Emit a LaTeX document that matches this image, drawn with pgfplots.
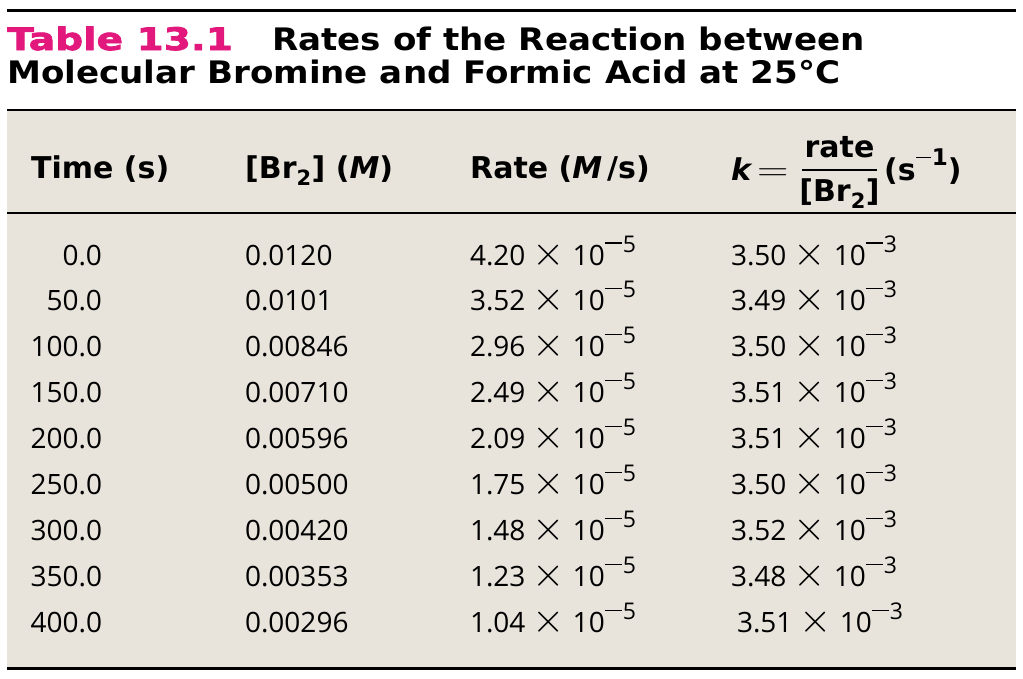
\documentclass[border=0pt]{standalone}
\usepackage{amsmath}
\usepackage{graphicx}
\usepackage{fontspec}
\setmainfont{Open Sans}
\newfontfamily\hdfont{DejaVu Sans}
\newfontface\ttlfont{DejaVu Sans Bold}[FakeStretch=1.1]
\newfontface\ttlheavy{DejaVu Sans Bold}[FakeStretch=1.26, FakeBold=2.5]
\usepackage{pgfplots}
\usepackage{pgfplotstable}
\pgfplotsset{compat=1.18}
\definecolor{bg}{RGB}{232,228,220}
\definecolor{mag}{RGB}{226,24,125}
\newcommand\body{\fontsize{28pt}{32pt}\selectfont}
\newcommand\head{\hdfont\fontsize{30pt}{34pt}\selectfont\bfseries}
\newcommand\ttl{\fontsize{31pt}{36pt}\selectfont\ttlfont}
\newcommand\sx{\hspace{7pt}\scalebox{2.0}{\fontsize{20pt}{24pt}\selectfont$\times$}\hspace{8pt}}
\newcommand\sexp[1]{\raisebox{13pt}{\fontsize{23pt}{0pt}\selectfont\rule[8.5pt]{17pt}{1.2pt}\hspace{1pt}#1}}
\pgfplotstableread{
row time br rate k
0 0.0 0.0120 4.20 3.50
1 50.0 0.0101 3.52 3.49
2 100.0 0.00846 2.96 3.50
3 150.0 0.00710 2.49 3.51
4 200.0 0.00596 2.09 3.51
5 250.0 0.00500 1.75 3.50
6 300.0 0.00420 1.48 3.52
7 350.0 0.00353 1.23 3.48
8 400.0 0.00296 1.04 3.51
}\datatable
\begin{document}
\begin{tikzpicture}
\begin{axis}[
  scale only axis, width=1023pt, height=678pt,
  xmin=0, xmax=1023, ymin=0, ymax=678, y dir=reverse,
  hide axis, clip=false,
  point meta=explicit symbolic,
  every node near coord/.append style={inner sep=0pt, outer sep=0pt, font=\body, text=black},
]
\path (axis cs:0,0) rectangle (axis cs:1023,678);
% background
\addplot[fill=bg, draw=none] coordinates {(7,111) (1016,111) (1016,668) (7,668)} -- cycle;
% rules
\addplot[black, line width=3pt] coordinates {(7,10) (1016,10)};
\addplot[black, line width=2pt] coordinates {(7,110) (1016,110)};
\addplot[black, line width=2pt] coordinates {(7,213) (1016,213)};
\addplot[black, line width=3pt] coordinates {(7,668) (1016,668)};
% title
\node[anchor=base west, inner sep=0pt, text=mag, font=\fontsize{31pt}{36pt}\selectfont\ttlheavy] at (axis cs:7,50) {Table 13.1};
\node[anchor=base west, inner sep=0pt, font=\ttl] at (axis cs:272,50) {Rates of the Reaction between};
\node[anchor=base west, inner sep=0pt, font=\ttl] at (axis cs:7,83) {Molecular Bromine and Formic Acid at 25°C};
% header
\node[anchor=base west, inner sep=0pt, font=\head] at (axis cs:31,178) {Time (s)};
\node[anchor=base west, inner sep=0pt, font=\head] at (axis cs:245,178) {[Br\textsubscript{2}] (\textit{M})};
\node[anchor=base west, inner sep=0pt, font=\head] at (axis cs:470,178) {Rate (\textit{M}\,/s)};
\node[anchor=base west, inner sep=0pt, font=\head] at (axis cs:731,180) {\textit{k}};
\node[anchor=base west, inner sep=0pt, font=\head] at (axis cs:757,180)
  {\scalebox{2.1}[1.6]{\fontsize{20pt}{24pt}\selectfont$=$}};
\node[anchor=base, inner sep=0pt, font=\head] at (axis cs:839.5,157) {rate};
\node[anchor=base, inner sep=0pt, font=\head] at (axis cs:839.5,201) {[Br\textsubscript{2}]};
\addplot[black, line width=2pt] coordinates {(802,170) (877,170)};
\node[anchor=base west, inner sep=0pt, font=\head] at (axis cs:884,180)
  {(s\raisebox{15pt}{\fontsize{23pt}{0pt}\selectfont\rule[7pt]{15pt}{1pt}\hspace{1pt}1})};
% data columns
\addplot[draw=none, mark=none, nodes near coords,
  every node near coord/.append style={anchor=base east}]
  table[x expr=102, y expr={265+45.9*\thisrow{row}}, meta=time] {\datatable};
\addplot[draw=none, mark=none, nodes near coords,
  every node near coord/.append style={anchor=base west}]
  table[x expr=245, y expr={265+45.9*\thisrow{row}}, meta=br] {\datatable};
\addplot[draw=none, mark=none, nodes near coords={\pgfplotspointmeta\sx 10\sexp{5}},
  every node near coord/.append style={anchor=base west}]
  table[x expr=470, y expr={265+45.9*\thisrow{row}}, meta=rate] {\datatable};
\addplot[draw=none, mark=none, nodes near coords={\pgfplotspointmeta\sx 10\sexp{3}},
  every node near coord/.append style={anchor=base west}]
  table[x expr={\thisrow{row}==8 ? 737 : 731}, y expr={265+45.9*\thisrow{row}}, meta=k] {\datatable};
\end{axis}
\end{tikzpicture}
\end{document}
